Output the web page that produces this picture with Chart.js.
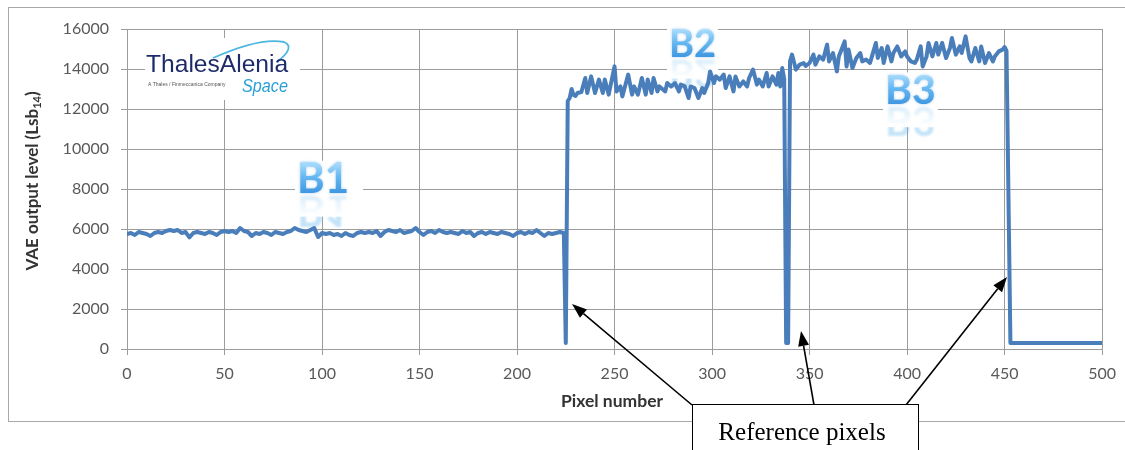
<!DOCTYPE html>
<html>
<head>
<meta charset="utf-8">
<script src="https://cdn.jsdelivr.net/npm/chart.js@4/dist/chart.umd.min.js"></script>
<style>
  html, body { margin: 0; padding: 0; background: #fff; }
  #wrap { width: 1125px; height: 450px; position: relative; }
</style>
</head>
<body>
<div id="wrap"><canvas id="vae" width="1125" height="450"></canvas></div>
<script>
// ---- Measured VAE output level per pixel (Lsb14) ----
// Band B1
const b1Pixels = [0,2,4,6,8,10,12,14,16,18,20,22,24,26,28,30,32,34,36,38,40,42,44,46,48,50,52,54,56,58,60,62,64,66,68,70,72,74,76,78,80,82,84,86,88,90,92,94,96,98,100,102,104,106,108,110,112,114,116,118,120,122,124,126,128,130,132,134,136,138,140,142,144,146,148,150,152,154,156,158,160,162,164,166,168,170,172,174,176,178,180,182,184,186,188,190,192,194,196,198,200,202,204,206,208,210,212,214,216,218,220,222,224];
const b1Levels = [5750,5800,5700,5850,5800,5750,5650,5800,5850,5800,5900,5950,5900,5950,5800,5850,5580,5800,5850,5800,5750,5850,5800,5700,5850,5900,5850,5900,5800,6050,5900,5850,5650,5800,5750,5850,5800,5700,5850,5800,5750,5850,5900,6050,5950,5900,5850,5950,6050,5600,5800,5750,5800,5700,5750,5650,5800,5700,5650,5800,5850,5800,5850,5800,5900,5650,5850,5950,5900,5850,5950,5800,5850,5900,6050,5850,5700,5850,5900,5800,5950,5850,5800,5850,5800,5750,5900,5800,5850,5650,5800,5850,5750,5850,5800,5750,5850,5800,5750,5650,5800,5850,5750,5850,5800,5950,5800,5650,5800,5750,5800,5850,5800];
// Reference pixel 1
const ref1Pixels = [225];
const ref1Levels = [300];
// Band B2
const b2Pixels = [226,227,228,229,230,231,233,235,236,238,240,242,244,245,247,250,251,253,254,257,259,260,262,264,266,267,269,270,272,273,276,277,279,281,283,284,286,288,289,291,293,295,296,298,299,301,302,304,306,307,309,311,312,314,316,318,319,321,323,324,326,328,329,331,333,334,335,336,337];
const b2Levels = [12400,12550,13000,12700,12650,12800,12850,13550,12800,13630,12800,13470,12800,13470,12720,14130,12880,13130,12630,13720,12720,13130,12720,13550,12720,13470,12800,13550,12880,13130,12880,13300,13130,13300,12880,13220,13130,12550,13130,13050,12550,13050,12800,13300,13880,13300,13630,13470,13720,13050,13630,12880,13630,13130,13380,13130,13550,13970,13220,13470,13130,13800,13130,13630,13220,13800,13130,14050,13500];
// Reference pixel 2
const ref2Pixels = [338,339];
const ref2Levels = [300,300];
// Band B3
const b3Pixels = [340,341,343,345,347,348,350,352,353,355,357,359,360,362,364,365,368,369,370,372,374,376,377,379,381,382,384,385,387,388,390,392,393,395,397,399,400,402,404,405,407,408,410,411,413,415,416,418,420,422,423,425,427,428,430,432,433,435,437,438,440,442,444,445,447,449,450,451];
const b3Levels = [14400,14720,13970,14220,14300,14150,14300,14720,14220,14630,14470,15220,14380,14800,13880,14630,15380,14130,14970,14050,14550,14800,14380,14470,14300,14630,15300,14550,15050,14300,15130,14380,14800,15130,14630,14880,14630,14380,14300,14470,15130,14130,14630,15300,14630,15300,14720,15300,14550,15050,15550,14720,15130,14800,15630,14550,14380,15050,14380,15130,14300,14800,14380,14630,14880,14970,15100,14900];
// Reference pixel 3 and the dark tail
const tailPixels = [453,500];
const tailLevels = [300,300];

// Axis ticks
const xTickValues = [0,50,100,150,200,250,300,350,400,450,500];
const yTickValues = [0,2000,4000,6000,8000,10000,12000,14000,16000];

// Band labels
const bandNames = ['B1','B2','B3'];

const pixels = [].concat(b1Pixels, ref1Pixels, b2Pixels, ref2Pixels, b3Pixels, tailPixels);
const levels = [].concat(b1Levels, ref1Levels, b2Levels, ref2Levels, b3Levels, tailLevels);
const points = pixels.map((p, i) => ({ x: p, y: levels[i] }));

const TICK_FONT = { family: 'Lato, "Liberation Sans", sans-serif', size: 16 };
const GRID = '#9c9c9c';

function drawBand(ctx, text, x, base, size, cover) {
  ctx.save();
  ctx.font = 'bold ' + size + 'px Lato, "Liberation Sans", sans-serif';
  const w = ctx.measureText(text).width;
  const cap = size * 0.72;
  // white backing behind the label and its reflection
  ctx.fillStyle = '#fff';
  ctx.fillRect(x - 2, base - cap - 2, w + 4 + (cover || 0), cap * 1.75);
  ctx.textBaseline = 'alphabetic';
  // reflection
  ctx.save();
  ctx.translate(0, 2 * base + 3);
  ctx.scale(1, -1);
  ctx.globalAlpha = 0.4;
  ctx.filter = 'blur(1px)';
  ctx.fillStyle = '#6cb8ef';
  ctx.fillText(text, x, base);
  ctx.restore();
  const fade = ctx.createLinearGradient(0, base + 1, 0, base + cap * 0.75);
  fade.addColorStop(0, 'rgba(255,255,255,0.3)');
  fade.addColorStop(1, 'rgba(255,255,255,1)');
  ctx.fillStyle = fade;
  ctx.fillRect(x - 2, base + 1, w + 4, cap * 0.75);
  // main glyphs
  const g = ctx.createLinearGradient(0, base - cap, 0, base);
  g.addColorStop(0, '#a9dcfc');
  g.addColorStop(0.45, '#67b9f2');
  g.addColorStop(1, '#3f97e0');
  ctx.shadowColor = 'rgba(60,140,220,0.45)';
  ctx.shadowBlur = 3;
  ctx.fillStyle = g;
  ctx.fillText(text, x, base);
  ctx.restore();
}

function drawLogo(ctx) {
  ctx.save();
  ctx.fillStyle = '#fff';
  ctx.fillRect(145, 38, 155, 62);
  // swoosh
  ctx.strokeStyle = '#4db6e2';
  ctx.lineWidth = 1.8;
  ctx.beginPath();
  ctx.moveTo(213, 58);
  ctx.quadraticCurveTo(260, 37, 284, 42);
  ctx.quadraticCurveTo(296, 47, 277, 62);
  ctx.stroke();
  // wordmark
  ctx.textBaseline = 'alphabetic';
  ctx.font = '22px "Liberation Sans", sans-serif';
  let w = ctx.measureText('ThalesAlenia').width;
  const s = 22 * 142 / w;
  ctx.font = s.toFixed(1) + 'px "Liberation Sans", sans-serif';
  ctx.fillStyle = '#1d2b6b';
  ctx.fillText('ThalesAlenia', 146, 72);
  ctx.font = 'italic 18px "Liberation Sans", sans-serif';
  w = ctx.measureText('Space').width;
  ctx.save();
  ctx.translate(242, 92);
  ctx.scale(46 / w, 1.0);
  ctx.fillStyle = '#2a9fd8';
  ctx.fillText('Space', 0, 0);
  ctx.restore();
  ctx.font = '5px "Liberation Sans", sans-serif';
  ctx.fillStyle = '#555';
  ctx.fillText('A Thales / Finmeccanica Company', 148, 86);
  ctx.restore();
}

function arrow(ctx, x1, y1, x2, y2) {
  const ang = Math.atan2(y2 - y1, x2 - x1);
  const len = 15, half = 5.5;
  const bx = x2 - len * Math.cos(ang), by = y2 - len * Math.sin(ang);
  ctx.beginPath();
  ctx.moveTo(x1, y1);
  ctx.lineTo(bx, by);
  ctx.stroke();
  ctx.beginPath();
  ctx.moveTo(x2, y2);
  ctx.lineTo(bx + half * Math.sin(ang), by - half * Math.cos(ang));
  ctx.lineTo(bx - half * Math.sin(ang), by + half * Math.cos(ang));
  ctx.closePath();
  ctx.fill();
}

const decor = {
  id: 'decor',
  beforeDraw(chart) {
    const ctx = chart.ctx;
    ctx.save();
    ctx.fillStyle = '#fff';
    ctx.fillRect(0, 0, chart.width, chart.height);
    ctx.strokeStyle = '#a8a8a8';
    ctx.lineWidth = 1;
    ctx.strokeRect(8.5, 7.5, 1130, 414);
    ctx.restore();
  },
  beforeDatasetsDraw(chart) {
    const ctx = chart.ctx;
    drawLogo(ctx);
    drawBand(ctx, bandNames[0], 297, 193, 42, 12);
    drawBand(ctx, bandNames[1], 669, 57, 38, 0);
    drawBand(ctx, bandNames[2], 885, 104, 41, 0);
  },
  afterDraw(chart) {
    const ctx = chart.ctx;
    ctx.save();
    // y axis title with subscript
    ctx.fillStyle = '#333';
    ctx.translate(33, 181);
    ctx.rotate(-Math.PI / 2);
    ctx.textBaseline = 'middle';
    const mainFont = 'bold 17px Lato, "Liberation Sans", sans-serif';
    const subFont = 'bold 11px Lato, "Liberation Sans", sans-serif';
    ctx.font = mainFont;
    const t1 = 'VAE output level (Lsb', t3 = ')';
    const w1 = ctx.measureText(t1).width, w3 = ctx.measureText(t3).width;
    ctx.font = subFont;
    const w2 = ctx.measureText('14').width;
    let x0 = -(w1 + w2 + w3) / 2;
    ctx.font = mainFont;
    ctx.fillText(t1, x0, 0);
    ctx.font = subFont;
    ctx.fillText('14', x0 + w1, 4);
    ctx.font = mainFont;
    ctx.fillText(t3, x0 + w1 + w2, 0);
    ctx.restore();

    // x axis title
    ctx.save();
    ctx.fillStyle = '#333';
    ctx.font = 'bold 17.5px Lato, "Liberation Sans", sans-serif';
    ctx.textAlign = 'center';
    ctx.textBaseline = 'middle';
    ctx.fillText('Pixel number', 612, 401);
    ctx.restore();

    // callout arrows and box
    ctx.save();
    ctx.strokeStyle = '#000';
    ctx.fillStyle = '#000';
    ctx.lineWidth = 1.6;
    arrow(ctx, 692, 405, 572, 304);
    arrow(ctx, 814, 405, 801, 331);
    arrow(ctx, 906, 405, 1007, 277);
    ctx.fillStyle = '#fff';
    ctx.fillRect(692, 405, 227, 60);
    ctx.strokeStyle = '#000';
    ctx.lineWidth = 1;
    ctx.strokeRect(692.5, 404.5, 226, 60);
    ctx.fillStyle = '#000';
    ctx.font = '25px "Liberation Serif", serif';
    ctx.textAlign = 'center';
    ctx.textBaseline = 'middle';
    ctx.fillText('Reference pixels', 802, 433);
    ctx.restore();
  }
};

new Chart(document.getElementById('vae').getContext('2d'), {
  type: 'line',
  data: {
    datasets: [{
      data: points,
      borderColor: '#4a7ebb',
      borderWidth: 4,
      pointRadius: 0,
      tension: 0,
      fill: false,
      borderJoinStyle: 'round',
      borderCapStyle: 'round'
    }]
  },
  options: {
    responsive: false,
    animation: false,
    devicePixelRatio: 1,
    layout: { padding: { left: 0, top: 29, right: 21, bottom: 0 } },
    plugins: { legend: { display: false }, tooltip: { enabled: false } },
    scales: {
      x: {
        type: 'linear',
        min: 0, max: 500,
        afterBuildTicks: s => { s.ticks = xTickValues.map(v => ({ value: v })); },
        afterFit: s => { s.height = 101; },
        grid: { color: GRID, lineWidth: 1, tickLength: 6, drawTicks: true },
        border: { color: GRID },
        ticks: { color: '#595959', font: TICK_FONT, padding: 9, maxRotation: 0, autoSkip: false, callback: v => String(v) }
      },
      y: {
        type: 'linear',
        min: 0, max: 16000,
        afterBuildTicks: s => { s.ticks = yTickValues.map(v => ({ value: v })); },
        afterFit: s => { s.width = 127; },
        grid: { color: GRID, lineWidth: 1, tickLength: 6, drawTicks: true },
        border: { color: GRID },
        ticks: { color: '#595959', font: TICK_FONT, padding: 12, autoSkip: false, callback: v => String(v) }
      }
    }
  },
  plugins: [decor]
});
</script>
</body>
</html>
